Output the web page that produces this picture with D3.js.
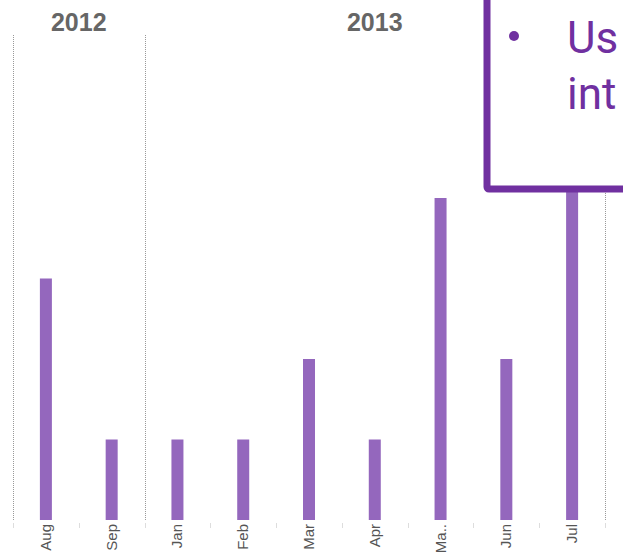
<!DOCTYPE html>
<html>
<head>
<meta charset="utf-8">
<script src="https://d3js.org/d3.v7.min.js"></script>
<style>
  html, body { margin: 0; padding: 0; background: #fff; }
  svg { display: block; }
</style>
</head>
<body>
<svg id="chart" width="623" height="553"></svg>
<script>
// data
const years = ["2012", "2013"];
const months = ["Aug", "Sep", "Jan", "Feb", "Mar", "Apr", "May", "Jun", "Jul"];
const monthLabels = ["Aug", "Sep", "Jan", "Feb", "Mar", "Apr", "Ma..", "Jun", "Jul"];
const monthYear = ["2012", "2012", "2013", "2013", "2013", "2013", "2013", "2013", "2013"];
const values = [3, 1, 1, 1, 2, 1, 4, 2, 5];
// callout text is cut by the right edge in the source, only this much shows
const calloutLines = ["Us", "int"];

const width = 623, height = 553;
const margin = { top: 35, right: 18, bottom: 33, left: 13 };

const svg = d3.select("#chart");

const x = d3.scaleBand()
    .domain(months)
    .range([margin.left, width - margin.right])
    .paddingInner(0)
    .paddingOuter(0);

const y = d3.scaleLinear()
    .domain([0, 5])
    .range([height - margin.bottom, height - margin.bottom - 5 * 80.5]);

const barW = 12;
const plotBottom = height - margin.bottom;

// panel separators (dotted)
const sepPos = [x("Aug"), x("Jan"), x("Jul") + x.step()];
svg.append("g")
    .selectAll("line")
    .data(sepPos)
    .join("line")
    .attr("x1", d => Math.round(d) + 0.5)
    .attr("x2", d => Math.round(d) + 0.5)
    .attr("y1", margin.top)
    .attr("y2", plotBottom)
    .attr("stroke", "#999")
    .attr("stroke-width", 1)
    .attr("stroke-dasharray", "1,1");

// year headers
years.forEach(yr => {
    const ms = months.filter((m, i) => monthYear[i] === yr);
    const x0 = x(ms[0]);
    const x1 = x(ms[ms.length - 1]) + x.step();
    svg.append("text")
        .attr("x", (x0 + x1) / 2)
        .attr("y", 31)
        .attr("text-anchor", "middle")
        .attr("font-family", "Liberation Sans, Arial, sans-serif")
        .attr("font-weight", "bold")
        .attr("font-size", 25)
        .attr("fill", "#666")
        .text(yr);
});

// bars
svg.append("g")
    .selectAll("rect")
    .data(months.map((m, i) => ({ m, v: values[i] })))
    .join("rect")
    .attr("x", d => x(d.m) + x.bandwidth() / 2 - barW / 2)
    .attr("y", d => y(d.v))
    .attr("width", barW)
    .attr("height", d => plotBottom - y(d.v))
    .attr("fill", "#9467bd");

// small ticks on the bottom between months
const xAxis = svg.append("g")
    .attr("transform", `translate(0, ${plotBottom})`);
xAxis.selectAll("line")
    .data(months.concat(["end"]))
    .join("line")
    .attr("x1", (d, i) => Math.round(margin.left + i * x.step()) + 0.5)
    .attr("x2", (d, i) => Math.round(margin.left + i * x.step()) + 0.5)
    .attr("y1", 3)
    .attr("y2", 8)
    .attr("stroke", "#ddd");

// month labels, rotated
xAxis.selectAll("text")
    .data(months)
    .join("text")
    .attr("transform", d => `translate(${x(d) + x.bandwidth() / 2 + 5}, 4) rotate(-90)`)
    .attr("text-anchor", "end")
    .attr("font-family", "Liberation Sans, Arial, sans-serif")
    .attr("font-size", 15)
    .attr("fill", "#555")
    .text((d, i) => monthLabels[i]);

// callout box over the top right
const box = svg.append("g");
box.append("rect")
    .attr("x", 487)
    .attr("y", -20)
    .attr("width", 200)
    .attr("height", 209)
    .attr("rx", 2)
    .attr("fill", "#fff")
    .attr("stroke", "#7030a0")
    .attr("stroke-width", 7);

box.append("circle")
    .attr("cx", 514)
    .attr("cy", 36)
    .attr("r", 5)
    .attr("fill", "#7030a0");

box.selectAll("text")
    .data(calloutLines)
    .join("text")
    .attr("x", 567)
    .attr("y", (d, i) => 53 + i * 56)
    .attr("font-family", "Roboto, Liberation Sans, Arial, sans-serif")
    .attr("font-size", 44)
    .attr("fill", "#7030a0")
    .text(d => d);
</script>
</body>
</html>
